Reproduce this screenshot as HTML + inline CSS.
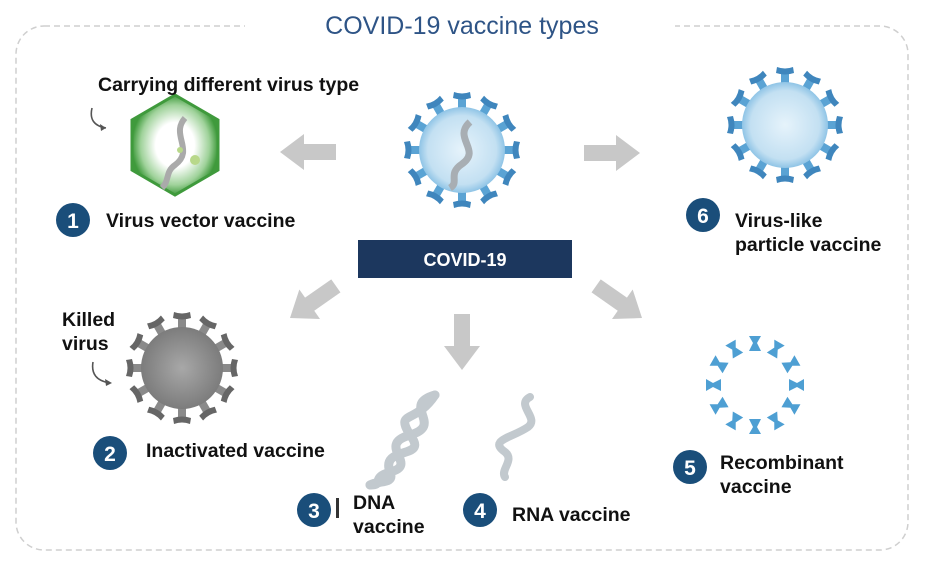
<!DOCTYPE html>
<html><head><meta charset="utf-8"><style>
body{margin:0;background:#fff;width:937px;height:578px;overflow:hidden;font-family:"Liberation Sans",sans-serif}
svg{display:block}
.t{font-family:"Liberation Sans",sans-serif;font-weight:bold;font-size:19.5px;fill:#111}
.n{font-family:"Liberation Sans",sans-serif;font-weight:bold;font-size:21px;fill:#fff;text-anchor:middle}
</style></head><body>
<svg width="937" height="578" viewBox="0 0 937 578">
<defs>
<g id="spB"><path d="M-4,-40 L4,-40 L4,-52 L-4,-52Z" fill="#5aa3d4"/><path d="M-9,-52 Q0,-49 9,-52 L8,-58 Q0,-55 -8,-58Z" fill="#3f86bd"/></g>
<g id="spG"><path d="M-4,-38 L4,-38 L4,-50 L-4,-50Z" fill="#8a8a8a"/><path d="M-9,-50 Q0,-47 9,-50 L8,-56 Q0,-53 -8,-56Z" fill="#666"/></g>
<g id="pc"><path d="M-6,-49 L6,-49 L2,-42 L6,-34 L-6,-34 L-2,-42Z" fill="#4e9fd3"/></g>
<g id="arr"><path d="M0,0 L24,-18 L24,-8 L56,-8 L56,8 L24,8 L24,18Z" fill="#c8c8c8"/></g>
<radialGradient id="bl" cx="50%" cy="50%" r="50%"><stop offset="0" stop-color="#e6f3fb"/><stop offset="0.8" stop-color="#c3e0f2"/><stop offset="1" stop-color="#8fc4e6"/></radialGradient>
<radialGradient id="gr" cx="50%" cy="50%" r="50%"><stop offset="0" stop-color="#a8a8a8"/><stop offset="1" stop-color="#7c7c7c"/></radialGradient>
<radialGradient id="gn" cx="50%" cy="50%" r="50%"><stop offset="0.45" stop-color="#ffffff"/><stop offset="0.8" stop-color="#9fd29a"/><stop offset="1" stop-color="#3f9a3c"/></radialGradient>
</defs>
<rect x="16" y="26" width="892" height="524" rx="28" fill="none" stroke="#cfcfcf" stroke-width="1.5" stroke-dasharray="6,4"/>
<rect x="245" y="10" width="430" height="30" fill="#fff"/>
<text x="462" y="34" text-anchor="middle" font-family="Liberation Sans" font-size="25" fill="#2e5486">COVID-19 vaccine types</text>

<g transform="translate(462,150)">
<use href="#spB"/><use href="#spB" transform="rotate(30)"/><use href="#spB" transform="rotate(60)"/><use href="#spB" transform="rotate(90)"/><use href="#spB" transform="rotate(120)"/><use href="#spB" transform="rotate(150)"/><use href="#spB" transform="rotate(180)"/><use href="#spB" transform="rotate(210)"/><use href="#spB" transform="rotate(240)"/><use href="#spB" transform="rotate(270)"/><use href="#spB" transform="rotate(300)"/><use href="#spB" transform="rotate(330)"/>
<circle r="43" fill="url(#bl)"/>
<path d="M8,-28 C-10,-12 20,0 0,14 C-15,24 -2,32 -12,38" stroke="#a8aeb3" stroke-width="7" fill="none"/>
</g>
<rect x="358" y="240" width="214" height="38" fill="#1c375e"/>
<text x="465" y="266" text-anchor="middle" font-weight="bold" font-size="18" fill="#fff" font-family="Liberation Sans">COVID-19</text>

<use href="#arr" transform="translate(280,152)"/>
<use href="#arr" transform="translate(640,153) rotate(180)"/>
<use href="#arr" transform="translate(290,318) rotate(-35)"/>
<use href="#arr" transform="translate(462,370) rotate(-90)"/>
<use href="#arr" transform="translate(642,318) rotate(215)"/>

<polygon points="175,95 218,120 218,170 175,195 132,170 132,120" fill="url(#gn)" stroke="#3f9a3c" stroke-width="3"/>
<path d="M185,118 C170,135 195,150 175,165 C165,172 170,180 162,188" stroke="#aaaaaa" stroke-width="6" fill="none"/>
<circle cx="195" cy="160" r="5" fill="#b8d88a"/><circle cx="180" cy="150" r="3" fill="#b8d88a"/>
<text class="t" x="98" y="91">Carrying different virus type</text>
<path d="M92,108 Q88,125 106,128" stroke="#555" stroke-width="1.6" fill="none"/><path d="M106,128 l-6,-4 l1,7z" fill="#555"/>
<circle cx="73" cy="220" r="17" fill="#1a4e7a"/><text class="n" x="73" y="228">1</text>
<text class="t" x="106" y="227">Virus vector vaccine</text>

<g transform="translate(182,368)">
<use href="#spG"/><use href="#spG" transform="rotate(30)"/><use href="#spG" transform="rotate(60)"/><use href="#spG" transform="rotate(90)"/><use href="#spG" transform="rotate(120)"/><use href="#spG" transform="rotate(150)"/><use href="#spG" transform="rotate(180)"/><use href="#spG" transform="rotate(210)"/><use href="#spG" transform="rotate(240)"/><use href="#spG" transform="rotate(270)"/><use href="#spG" transform="rotate(300)"/><use href="#spG" transform="rotate(330)"/>
<circle r="41" fill="url(#gr)"/>
</g>
<text class="t" x="62" y="326">Killed</text><text class="t" x="62" y="350">virus</text>
<path d="M93,362 Q90,380 110,383" stroke="#555" stroke-width="1.6" fill="none"/><path d="M112,383 l-7,-4 l1,7z" fill="#555"/>
<circle cx="110" cy="453" r="17" fill="#1a4e7a"/><text class="n" x="110" y="461">2</text>
<text class="t" x="146" y="457">Inactivated vaccine</text>

<g fill="none" stroke-linecap="round">
<path d="M435,395 C400,405 445,425 410,435 C375,445 420,465 390,472 C370,478 385,485 370,485" stroke="#c2c9ce" stroke-width="9"/>
<path d="M435,395 C415,425 395,410 410,435 C430,460 380,445 390,472 C395,485 378,480 370,485" stroke="#c2c9ce" stroke-width="9"/>
<path d="M530,397 C515,405 540,418 528,427 C512,438 488,440 505,452 C515,460 500,470 505,477" stroke="#c2c9ce" stroke-width="8"/>
</g>
<circle cx="314" cy="510" r="17" fill="#1a4e7a"/><text class="n" x="314" y="518">3</text>
<rect x="336" y="498" width="3" height="20" fill="#333"/>
<text class="t" x="353" y="509">DNA</text><text class="t" x="353" y="533">vaccine</text>
<circle cx="480" cy="510" r="17" fill="#1a4e7a"/><text class="n" x="480" y="518">4</text>
<text class="t" x="512" y="521">RNA vaccine</text>

<g transform="translate(755,385)">
<use href="#pc"/><use href="#pc" transform="rotate(30)"/><use href="#pc" transform="rotate(60)"/><use href="#pc" transform="rotate(90)"/><use href="#pc" transform="rotate(120)"/><use href="#pc" transform="rotate(150)"/><use href="#pc" transform="rotate(180)"/><use href="#pc" transform="rotate(210)"/><use href="#pc" transform="rotate(240)"/><use href="#pc" transform="rotate(270)"/><use href="#pc" transform="rotate(300)"/><use href="#pc" transform="rotate(330)"/>
</g>
<circle cx="690" cy="467" r="17" fill="#1a4e7a"/><text class="n" x="690" y="475">5</text>
<text class="t" x="720" y="469">Recombinant</text><text class="t" x="720" y="493">vaccine</text>

<g transform="translate(785,125)">
<use href="#spB"/><use href="#spB" transform="rotate(30)"/><use href="#spB" transform="rotate(60)"/><use href="#spB" transform="rotate(90)"/><use href="#spB" transform="rotate(120)"/><use href="#spB" transform="rotate(150)"/><use href="#spB" transform="rotate(180)"/><use href="#spB" transform="rotate(210)"/><use href="#spB" transform="rotate(240)"/><use href="#spB" transform="rotate(270)"/><use href="#spB" transform="rotate(300)"/><use href="#spB" transform="rotate(330)"/>
<circle r="43" fill="url(#bl)"/>
</g>
<circle cx="703" cy="215" r="17" fill="#1a4e7a"/><text class="n" x="703" y="223">6</text>
<text class="t" x="735" y="227">Virus-like</text><text class="t" x="735" y="251">particle vaccine</text>
</svg>
</body></html>
